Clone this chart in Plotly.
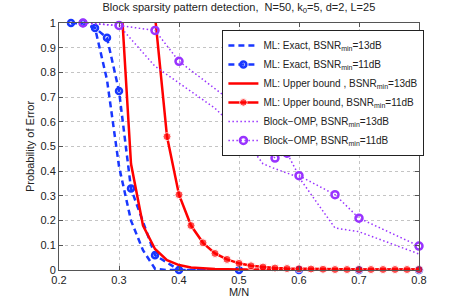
import plotly.graph_objects as go

# ---- data ----
x_exact13 = [0.22, 0.24, 0.26, 0.28, 0.30, 0.32, 0.34, 0.36, 0.38, 0.40, 0.50, 0.60, 0.70, 0.80]
y_exact13 = [1.0, 1.0, 0.98, 0.77, 0.42, 0.20, 0.08, 0.005, 0.0, 0.0, 0.0, 0.0, 0.0, 0.0]

x_exact11 = [0.22, 0.24, 0.26, 0.28, 0.30, 0.32, 0.36, 0.40, 0.50, 0.60, 0.70, 0.80]
y_exact11 = [1.0, 1.0, 0.98, 0.94, 0.725, 0.33, 0.06, 0.0, 0.0, 0.0, 0.0, 0.0]

x_ub13 = [0.30, 0.32, 0.34, 0.36, 0.38, 0.40, 0.42, 0.44, 0.46, 0.48, 0.50, 0.60, 0.70, 0.80]
y_ub13 = [1.24, 0.43, 0.18, 0.085, 0.04, 0.02, 0.01, 0.006, 0.004, 0.003, 0.002, 0.001, 0.001, 0.001]

x_ub11 = [0.36, 0.38, 0.40, 0.42, 0.44, 0.46, 0.48, 0.50, 0.52, 0.54, 0.56, 0.58, 0.60,
          0.62, 0.64, 0.66, 0.68, 0.70, 0.72, 0.74, 0.76, 0.78, 0.80]
y_ub11 = [1.03, 0.54, 0.305, 0.18, 0.11, 0.067, 0.043, 0.027, 0.017, 0.012, 0.008, 0.006, 0.005,
          0.004, 0.003, 0.002, 0.002, 0.002, 0.002, 0.002, 0.002, 0.002, 0.002]

x_omp13 = [0.24, 0.30, 0.36, 0.46, 0.50, 0.54, 0.56, 0.60, 0.66, 0.70, 0.80]
y_omp13 = [1.0, 0.99, 0.825, 0.655, 0.56, 0.43, 0.41, 0.375, 0.17, 0.155, 0.065]

x_omp11 = [0.24, 0.30, 0.36, 0.40, 0.50, 0.54, 0.56, 0.58, 0.60, 0.66, 0.70, 0.80]
y_omp11 = [1.0, 0.99, 0.97, 0.845, 0.66, 0.509, 0.453, 0.473, 0.382, 0.305, 0.21, 0.097]

x_ticks = [0.2, 0.3, 0.4, 0.5, 0.6, 0.7, 0.8]
y_ticks = [0, 0.1, 0.2, 0.3, 0.4, 0.5, 0.6, 0.7, 0.8, 0.9, 1]

BLUE = "rgb(25,55,255)"
RED = "rgb(255,0,0)"
PURPLE = "rgb(153,51,255)"
FONT = "Liberation Sans, Arial, sans-serif"

fig = go.Figure()

fig.add_trace(go.Scatter(
    x=x_exact13, y=y_exact13, mode="lines",
    line=dict(color=BLUE, width=2.5, dash="6px,4px"),
    name="ML: Exact, BSNR<sub>min</sub>=13dB", cliponaxis=False))
fig.add_trace(go.Scatter(
    x=x_exact11, y=y_exact11, mode="lines+markers",
    line=dict(color=BLUE, width=2.5, dash="6px,4px"),
    marker=dict(symbol="circle-open", size=6, color=BLUE, line=dict(width=2.5, color=BLUE)),
    name="ML: Exact, BSNR<sub>min</sub>=11dB", cliponaxis=False))
fig.add_trace(go.Scatter(
    x=x_ub13, y=y_ub13, mode="lines",
    line=dict(color=RED, width=2.5),
    name="ML: Upper bound , BSNR<sub>min</sub>=13dB", cliponaxis=False))
fig.add_trace(go.Scatter(
    x=x_ub11, y=y_ub11, mode="lines+markers",
    line=dict(color=RED, width=2.5),
    marker=dict(symbol="circle", size=[0] + [8] * (len(x_ub11) - 1), color=RED),
    name="ML: Upper bound, BSNR<sub>min</sub>=11dB", cliponaxis=False))
fig.add_trace(go.Scatter(
    x=x_omp13, y=y_omp13, mode="lines",
    line=dict(color=PURPLE, width=1.5, dash="1.5px,2.5px"),
    name="Block\u2212OMP, BSNR<sub>min</sub>=13dB", cliponaxis=False))
fig.add_trace(go.Scatter(
    x=x_omp11, y=y_omp11, mode="lines+markers",
    line=dict(color=PURPLE, width=1.5, dash="1.5px,2.5px"),
    marker=dict(symbol="circle-open", size=7, color=PURPLE, line=dict(width=2.5, color=PURPLE)),
    name="Block\u2212OMP, BSNR<sub>min</sub>=11dB", cliponaxis=False))

axis_common = dict(
    showline=True, linecolor="#555555", linewidth=1, mirror="ticks",
    ticks="inside", ticklen=4, tickcolor="#555555",
    showgrid=True, gridcolor="#c4c4c4", griddash="dot", gridwidth=1,
    zeroline=False, tickfont=dict(size=11, color="#222222", family=FONT),
)

fig.update_layout(
    width=463, height=308,
    margin=dict(l=59, r=44, t=23, b=35),
    paper_bgcolor="white", plot_bgcolor="white",
    font=dict(family=FONT, size=11, color="#222222"),
    title=dict(text="Block sparsity pattern detection,  N=50, k<sub>0</sub>=5, d=2, L=25",
               x=0.516, xanchor="center", y=0.99, yanchor="top",
               font=dict(size=11, family=FONT, color="#222222")),
    xaxis=dict(range=[0.2, 0.8], tickvals=x_ticks, ticktext=[f"{v:g}" for v in x_ticks],
               title=dict(text="M/N", standoff=2, font=dict(size=11)), **axis_common),
    yaxis=dict(range=[0, 1], tickvals=y_ticks, ticktext=[f"{v:g}" for v in y_ticks],
               title=dict(text="Probability of Error", standoff=3, font=dict(size=11)), **axis_common),
    legend=dict(x=1.015, xanchor="right", y=0.972, yanchor="top",
                bgcolor="white", bordercolor="#222222", borderwidth=1,
                font=dict(size=10, family=FONT, color="#222222"),
                itemwidth=30, tracegroupgap=0),
    showlegend=True,
)

fig.write_html("out.html", config={"displayModeBar": False},
               post_script="document.body.style.margin='0';document.body.style.overflow='hidden';")
